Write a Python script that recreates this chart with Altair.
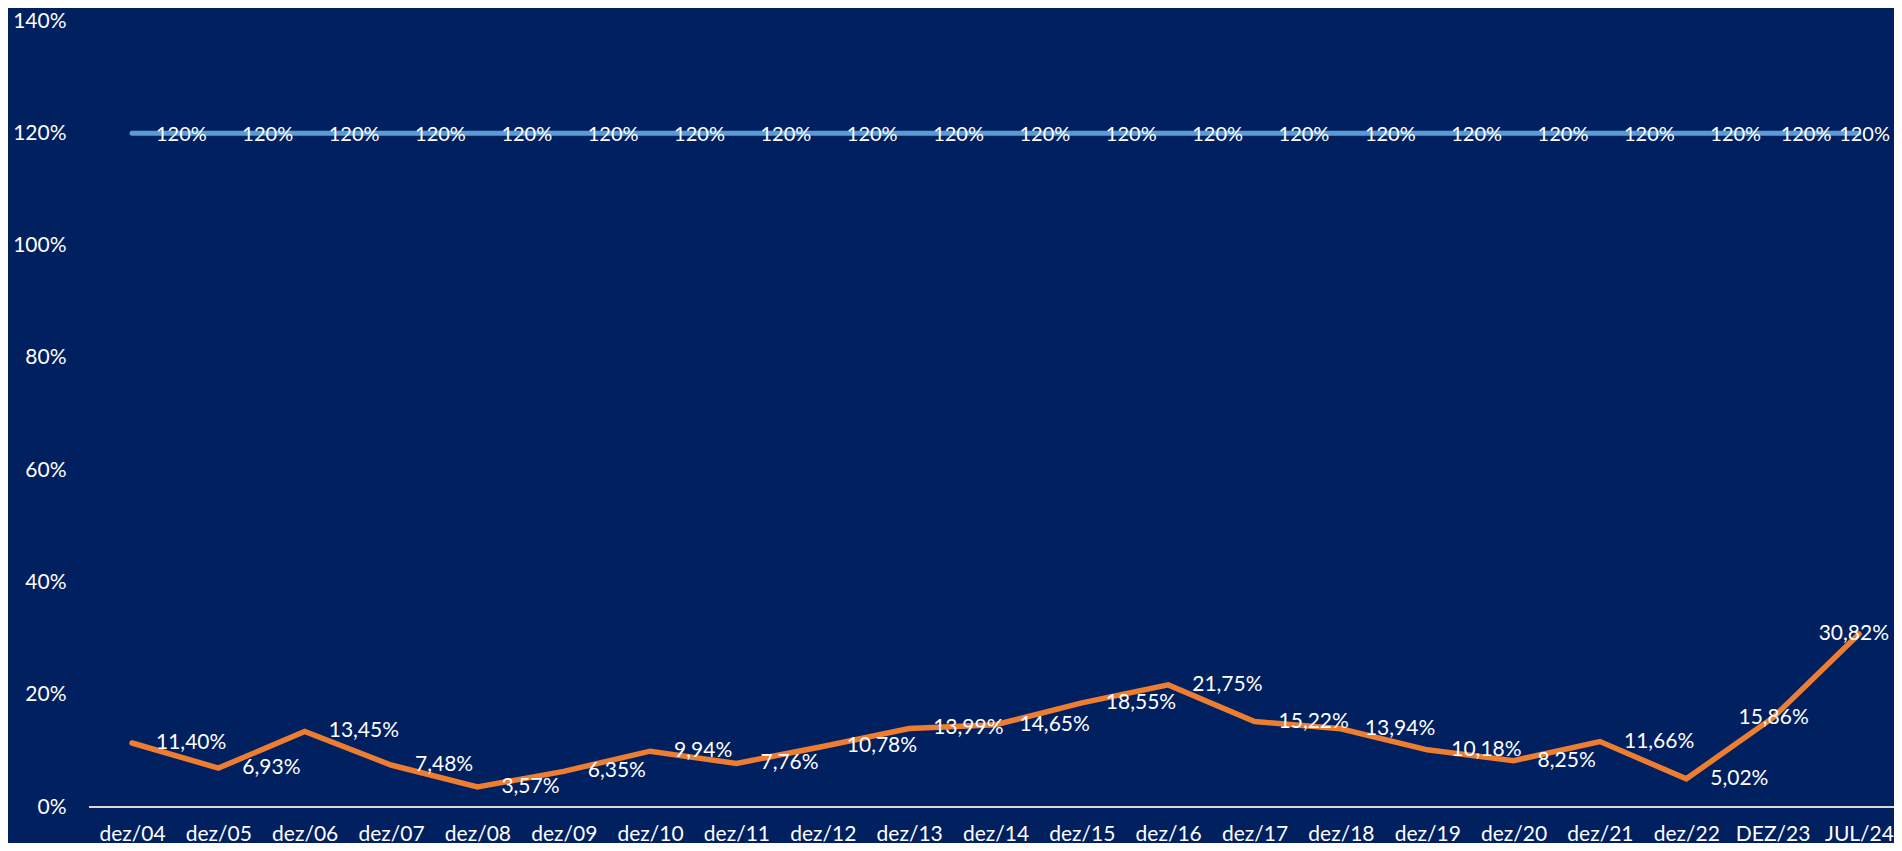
import altair as alt
import pandas as pd

categories = ["dez/04", "dez/05", "dez/06", "dez/07", "dez/08", "dez/09", "dez/10",
              "dez/11", "dez/12", "dez/13", "dez/14", "dez/15", "dez/16", "dez/17",
              "dez/18", "dez/19", "dez/20", "dez/21", "dez/22", "DEZ/23", "JUL/24"]
orange_values = [11.40, 6.93, 13.45, 7.48, 3.57, 6.35, 9.94, 7.76, 10.78, 13.99, 14.65,
                 18.55, 21.75, 15.22, 13.94, 10.18, 8.25, 11.66, 5.02, 15.86, 30.82]
blue_values = [120, 120, 120, 120, 120, 120, 120, 120, 120, 120, 120,
               120, 120, 120, 120, 120, 120, 120, 120, 120, 120]
y_ticks = [0, 20, 40, 60, 80, 100, 120, 140]

df_o = pd.DataFrame({"cat": categories, "v": orange_values, "i": list(range(len(categories)))})
df_b = pd.DataFrame({"cat": categories, "v": blue_values, "i": list(range(len(categories)))})

W, H = 1805, 786
FONT = "Lato"
FS = 21
FS_B = 20
BG = "#002060"
ORANGE = "#ED7D31"
BLUE = "#5B9BD5"

x_enc = alt.X("cat:O", sort=categories,
              scale=alt.Scale(type="point", range=[43, 1770], padding=0),
              axis=alt.Axis(title=None, domain=False, ticks=False, tickSize=0,
                            labelPadding=33, labelBaseline="alphabetic", labelAngle=0,
                            labelFont=FONT, labelFontSize=FS, labelColor="#FFFFFF"))
y_enc = alt.Y("v:Q", scale=alt.Scale(domain=[0, 140], nice=False),
              axis=alt.Axis(title=None, values=y_ticks, labelExpr="datum.value + '%'",
                            grid=False, domain=False, ticks=False, tickSize=0,
                            labelPadding=23, labelBaseline="middle",
                            labelFont=FONT, labelFontSize=FS, labelColor="#FFFFFF"))

base_o = alt.Chart(df_o)
base_b = alt.Chart(df_b)

rule = alt.Chart(pd.DataFrame({"z": [0]})).mark_rule(color="#D9D9D9", strokeWidth=2).encode(
    x=alt.value(0), x2=alt.value(W), y=alt.datum(0)
)

blue_line = base_b.mark_line(color=BLUE, strokeWidth=5, strokeCap="round").encode(x=x_enc, y=y_enc)
orange_line = base_o.mark_line(color=ORANGE, strokeWidth=5.5, strokeCap="round",
                               strokeJoin="miter").encode(x=x_enc, y=y_enc)

lab_o = "replace(format(datum.v, '.2f'), '.', ',') + '%'"
lab_b = "format(datum.v, '.0f') + '%'"

def text_layer(base, expr, cond, align, dx, dy=0, fs=FS):
    return base.transform_calculate(lab=expr).transform_filter(cond).mark_text(
        font=FONT, fontSize=fs, color="#FFFFFF", align=align, baseline="middle", dx=dx, dy=dy
    ).encode(x=x_enc, y=y_enc, text="lab:N")

o_main = text_layer(base_o, lab_o, "datum.i < 19", "left", 24)
o_23 = text_layer(base_o, lab_o, "datum.i == 19", "center", 1)
o_24 = text_layer(base_o, lab_o, "datum.i == 20", "right", 30)

b_main = text_layer(base_b, lab_b, "datum.i < 19", "left", 24, 2, FS_B)
b_23 = text_layer(base_b, lab_b, "datum.i == 19", "left", 8, 2, FS_B)
b_24 = text_layer(base_b, lab_b, "datum.i == 20", "right", 31, 2, FS_B)

chart = alt.layer(rule, blue_line, orange_line, b_main, b_23, b_24, o_main, o_23, o_24).properties(
    width=W, height=H,
    autosize=alt.AutoSizeParams(type="none"),
    padding={"left": 81, "top": 13, "right": 0, "bottom": 36},
    background=BG,
).configure_view(stroke=None)

chart.save("out.html", embed_options={"renderer": "svg", "actions": False})
